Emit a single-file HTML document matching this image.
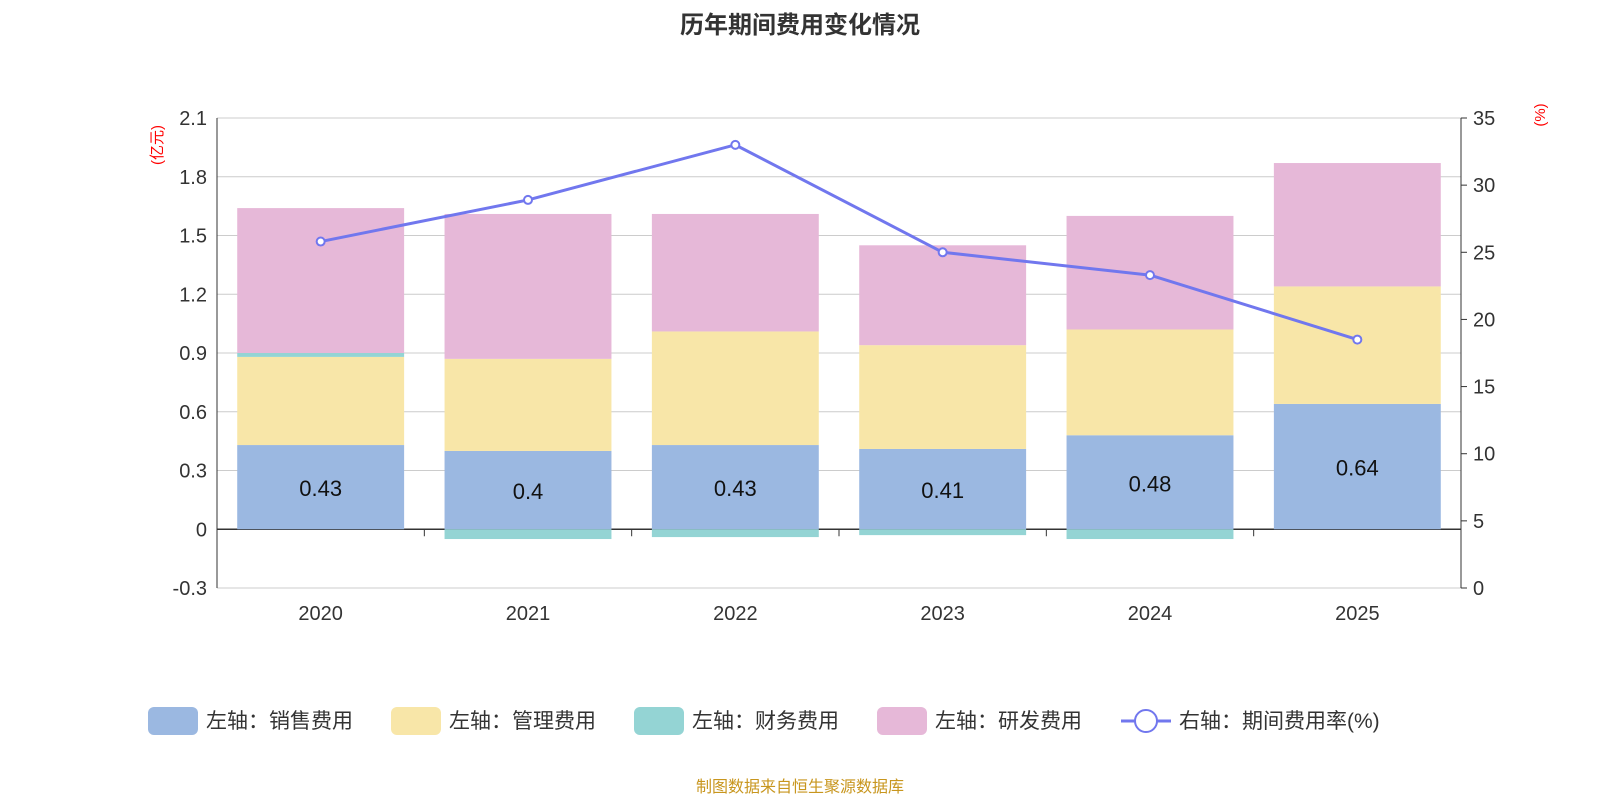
<!DOCTYPE html>
<html><head><meta charset="utf-8"><style>
body{margin:0;background:#fff;font-family:"Liberation Sans","Noto Sans CJK SC",sans-serif;}
svg text{font-family:"Liberation Sans","Noto Sans CJK SC",sans-serif;}
</style></head><body>
<svg id="c" width="1600" height="800">
<text x="800" y="33" text-anchor="middle" font-size="24" font-weight="bold" fill="#333">历年期间费用变化情况</text>
<text x="0" y="0" transform="translate(162,145) rotate(-90)" text-anchor="middle" font-size="15" fill="red">(亿元)</text>
<text x="0" y="0" transform="translate(1545,115) rotate(-90)" text-anchor="middle" font-size="15" fill="red">(%)</text>
<g id="grid"></g><g id="bars"></g><g id="axes"></g><g id="line"></g>
<g id="legend"></g>
<text x="800" y="792" text-anchor="middle" font-size="16" fill="#c8961e">制图数据来自恒生聚源数据库</text>
</svg>
<script>
const categories=["2020","2021","2022","2023","2024","2025"];
const sales=[0.43,0.4,0.43,0.41,0.48,0.64];
const mgmt=[0.45,0.47,0.58,0.53,0.54,0.60];
const finance=[0.02,-0.05,-0.04,-0.03,-0.05,0];
const rnd=[0.74,0.74,0.60,0.51,0.58,0.63];
const rate=[25.8,28.9,33.0,25.0,23.3,18.5];
const leftTicks=[-0.3,0,0.3,0.6,0.9,1.2,1.5,1.8,2.1];
const rightTicks=[0,5,10,15,20,25,30,35];
const NS="http://www.w3.org/2000/svg";
const X0=217,X1=1461,YT=118,YB=588;
const yL=v=>YB-(v+0.3)/2.4*(YB-YT);
const yR=v=>YB-v/35*(YB-YT);
const band=(X1-X0)/categories.length;
const xc=i=>X0+band*(i+0.5);
function mk(tag,attrs,parent,txt){const e=document.createElementNS(NS,tag);for(const k in attrs)e.setAttribute(k,attrs[k]);if(txt!==undefined)e.textContent=txt;document.getElementById(parent).appendChild(e);return e;}
leftTicks.forEach(t=>{
 const l=mk('line',{x1:X0,x2:X1,y1:yL(t),y2:yL(t),stroke:t===0?'#333':'#ccc','stroke-width':t===0?1.5:1},'grid');
 
 
 const tx=mk('text',{x:X0-10,y:yL(t)+7,'text-anchor':'end','font-size':20,fill:'#333'},'axes',String(t));
 
 
});
rightTicks.forEach(t=>{
 mk('line',{x1:X1,x2:X1+6,y1:yR(t),y2:yR(t),stroke:'#333'},'axes');
 const tx=mk('text',{x:X1+12,y:yR(t)+7,'font-size':20,fill:'#333'},'axes',String(t));
 
 
});
mk('line',{x1:X0,x2:X0,y1:YT,y2:YB,stroke:'#333'},'axes');
mk('line',{x1:X1,x2:X1,y1:YT,y2:YB,stroke:'#333'},'axes');
const bw=band*0.805;
categories.forEach((c,i)=>{
 const x=xc(i)-bw/2;
 let pos=0,neg=0;
 const series=[[sales[i],'#9bb8e1','bar-sales'],[mgmt[i],'#f8e6a8','bar-management'],[finance[i],'#94d4d4','bar-finance'],[rnd[i],'#e6b8d8','bar-rnd']];
 series.forEach(([v,col,nm])=>{
  let a,b;
  if(v>=0){a=pos;b=pos+v;pos=b;}else{a=neg;b=neg+v;neg=b;}
  const r=mk('rect',{x:x,width:bw,y:Math.min(yL(a),yL(b)),height:Math.abs(yL(a)-yL(b)),fill:col},'bars');
  
  
 });
 const lb=mk('text',{x:xc(i),y:yL(sales[i]/2)+9,'text-anchor':'middle','font-size':22,fill:'#111'},'bars',String(sales[i]));
 
 
 const xl=mk('text',{x:xc(i),y:620,'text-anchor':'middle','font-size':20,fill:'#333'},'axes',c);
 
 
 if(i>0)mk('line',{x1:X0+band*i,x2:X0+band*i,y1:yL(0),y2:yL(0)+7,stroke:'#333'},'axes');
});
const pts=rate.map((v,i)=>xc(i)+','+yR(v)).join(' ');
const pl=mk('polyline',{points:pts,fill:'none',stroke:'#7177ee','stroke-width':3},'line');


rate.forEach((v,i)=>{
 const p=mk('circle',{cx:xc(i),cy:yR(v),r:4,fill:'#fff',stroke:'#7177ee','stroke-width':2},'line');
 
 
});
const leg=[['左轴：销售费用','#9bb8e1',148],['左轴：管理费用','#f8e6a8',391],['左轴：财务费用','#94d4d4',634],['左轴：研发费用','#e6b8d8',877]];
leg.forEach(([t,col,x])=>{
 const g=mk('g',{},'legend');
 
 
 const r=document.createElementNS(NS,'rect');r.setAttribute('x',x);r.setAttribute('y',707);r.setAttribute('width',50);r.setAttribute('height',28);r.setAttribute('rx',6);r.setAttribute('fill',col);g.appendChild(r);
 const tx=document.createElementNS(NS,'text');tx.setAttribute('x',x+58);tx.setAttribute('y',728);tx.setAttribute('font-size',21);tx.setAttribute('fill','#333');tx.textContent=t;g.appendChild(tx);
});
const g=mk('g',{},'legend');


g.innerHTML='<line x1="1121" x2="1171" y1="721" y2="721" stroke="#7177ee" stroke-width="3"/><circle cx="1146" cy="721" r="11" fill="#fff" stroke="#7177ee" stroke-width="2"/><text x="1179" y="728" font-size="21" fill="#333">右轴：期间费用率(%)</text>';
</script>
</body></html>
